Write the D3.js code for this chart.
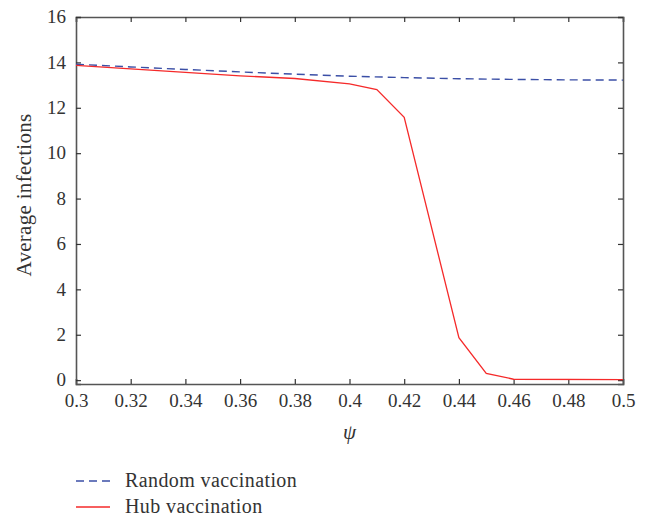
<!DOCTYPE html>
<html>
<head>
<meta charset="utf-8">
<script src="https://cdn.jsdelivr.net/npm/d3@7"></script>
<style>
  body { margin: 0; background: #fff; }
  text { font-family: "Liberation Serif", "DejaVu Serif", serif; fill: #333; }
</style>
</head>
<body>
<div id="chart"></div>
<script>
// Chart data
var randomPsi = [0.30, 0.32, 0.34, 0.36, 0.38, 0.40, 0.42, 0.44, 0.46, 0.48, 0.50];
var randomVals = [13.92, 13.80, 13.69, 13.58, 13.48, 13.39, 13.33, 13.28, 13.25, 13.23, 13.22];

var hubPsi = [0.30, 0.32, 0.34, 0.36, 0.38, 0.40, 0.41, 0.42, 0.44, 0.45, 0.46, 0.50];
var hubVals = [13.87, 13.71, 13.56, 13.41, 13.29, 13.05, 12.8, 11.58, 1.87, 0.30, 0.04, 0.02];

var xTicks = [0.3, 0.32, 0.34, 0.36, 0.38, 0.4, 0.42, 0.44, 0.46, 0.48, 0.5];
var yTicks = [0, 2, 4, 6, 8, 10, 12, 14, 16];
var seriesNames = ["Random vaccination", "Hub vaccination"];

// SVG area
var svgWidth = 652;
var svgHeight = 516;
var margin = { top: 17, right: 29, bottom: 132, left: 76 };
var chartWidth = svgWidth - margin.left - margin.right;
var chartHeight = svgHeight - margin.top - margin.bottom;

var svg = d3.select("#chart")
  .append("svg")
  .attr("width", svgWidth)
  .attr("height", svgHeight);

var chartGroup = svg.append("g")
  .attr("transform", `translate(${margin.left}, ${margin.top})`);

// Scales
var xScale = d3.scaleLinear()
  .domain([0.3, 0.5])
  .range([0, chartWidth]);

var yScale = d3.scaleLinear()
  .domain([-0.17, 16])
  .range([chartHeight, 0]);

var axisColor = "#555";
var fmt = d => d3.format("")(+d.toFixed(2));

// Axes (ticks point inward)
var bottomAxis = d3.axisBottom(xScale).tickValues(xTicks).tickSize(-5).tickPadding(10).tickFormat(fmt);
var topAxis = d3.axisTop(xScale).tickValues(xTicks).tickSize(-5).tickFormat("");
var leftAxis = d3.axisLeft(yScale).tickValues(yTicks).tickSize(-5).tickPadding(10);
var rightAxis = d3.axisRight(yScale).tickValues(yTicks).tickSize(-5).tickFormat("");

function styleAxis(g) {
  g.select(".domain").attr("stroke", axisColor).attr("stroke-width", 1.6);
  g.selectAll(".tick line").attr("stroke", "#333").attr("stroke-width", 1.2);
  g.selectAll(".tick text")
    .style("font-family", '"Liberation Serif", serif')
    .attr("font-size", 19)
    .attr("fill", "#333");
}

chartGroup.append("g")
  .attr("transform", `translate(0, ${chartHeight})`)
  .call(bottomAxis)
  .call(styleAxis);

chartGroup.append("g")
  .call(topAxis)
  .call(styleAxis);

chartGroup.append("g")
  .call(leftAxis)
  .call(styleAxis)
  .selectAll(".tick text")
  .attr("dy", "0.3em");

chartGroup.append("g")
  .attr("transform", `translate(${chartWidth}, 0)`)
  .call(rightAxis)
  .call(styleAxis);

// Lines
var line = d3.line()
  .x(d => xScale(d[0]))
  .y(d => yScale(d[1]));

var randomData = randomPsi.map((p, i) => [p, randomVals[i]]);
var hubData = hubPsi.map((p, i) => [p, hubVals[i]]);

chartGroup.append("path")
  .datum(randomData)
  .attr("d", line)
  .attr("fill", "none")
  .attr("stroke", "#3b4fa6")
  .attr("stroke-width", 1.4)
  .attr("stroke-dasharray", "8,5");

chartGroup.append("path")
  .datum(hubData)
  .attr("d", line)
  .attr("fill", "none")
  .attr("stroke", "#f52a2a")
  .attr("stroke-width", 1.3);

// Axis titles
svg.append("text")
  .attr("transform", "translate(31, 195) rotate(-90)")
  .attr("text-anchor", "middle")
  .attr("font-size", 21)
  .attr("letter-spacing", 0.3)
  .text("Average infections");

svg.append("text")
  .attr("x", margin.left + chartWidth / 2)
  .attr("y", 439)
  .attr("text-anchor", "middle")
  .attr("font-size", 21)
  .attr("font-style", "italic")
  .text("\u03C8");

// Legend
var legend = svg.append("g");
var legendStyles = [
  { color: "#3b4fa6", dash: "8,5", y: 481 },
  { color: "#f52a2a", dash: null, y: 507 }
];

seriesNames.forEach(function(name, i) {
  var s = legendStyles[i];
  legend.append("line")
    .attr("x1", 76)
    .attr("x2", 110)
    .attr("y1", s.y)
    .attr("y2", s.y)
    .attr("stroke", s.color)
    .attr("stroke-width", 1.4)
    .attr("stroke-dasharray", s.dash);
  legend.append("text")
    .attr("x", 125)
    .attr("y", s.y + 6)
    .attr("font-size", 20)
    .attr("letter-spacing", 0.4)
    .text(name);
});
</script>
</body>
</html>
